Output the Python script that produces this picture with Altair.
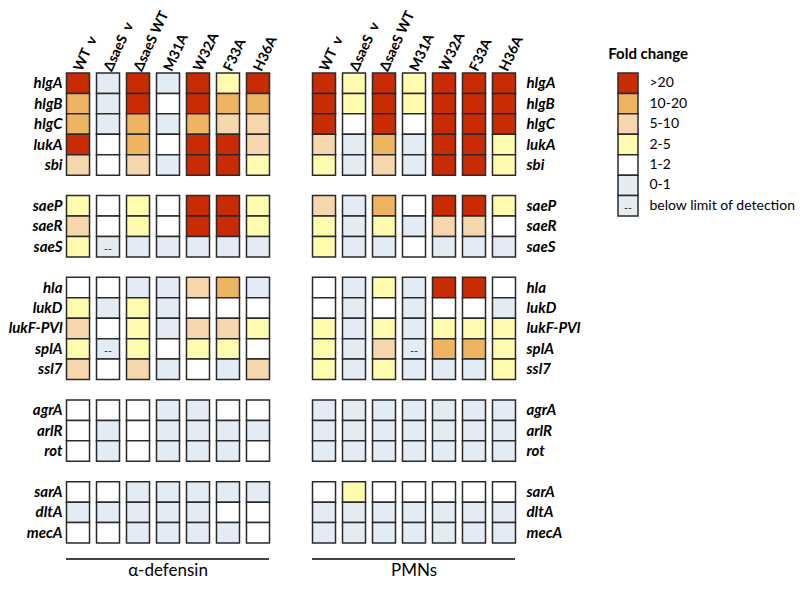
import altair as alt
import pandas as pd

FONT = "Lato"

conditions = ["WT\u00a0\u00a0v", "ΔsaeS\u00a0\u00a0v", "ΔsaeS WT", "M31A", "W32A", "F33A", "H36A"]

group1 = ["hlgA", "hlgB", "hlgC", "lukA", "sbi"]
group2 = ["saeP", "saeR", "saeS"]
group3 = ["hla", "lukD", "lukF-PVl", "splA", "ssl7"]
group4 = ["agrA", "arlR", "rot"]
group5 = ["sarA", "dltA", "mecA"]

# spacer rows between gene groups
row_order = (group1 + [" "] + group2 + ["  "] + group3 + ["   "] + group4 + ["    "] + group5)
genes = group1 + group2 + group3 + group4 + group5

# codes: R >20, O 10-20, P 5-10, Y 2-5, W 1-2, B 0-1, N below limit of detection
alpha_rows = [
    "RBRBRYR", "OBRWROO", "OBOBOPP", "RWOWRRP", "PWPBRRY",
    "YWYWRRY", "PWYWRRY", "YNBBBBB",
    "WWBBPOB", "YBYBWWW", "PWYBPPY", "YNYWYYW", "PWPBWBP",
    "WWWBBWW", "WBWBBBB", "WBWBBBW",
    "WWBBBBB", "BBBBBWW", "WWBBBBW",
]
pmn_rows = [
    "RYRYRRR", "RYRYRRR", "RWRWRRR", "PBOBRRY", "YBPBRRY",
    "PBOWRRY", "YBYBPPW", "YBBWBBB",
    "WBYBRRW", "WBWBWWB", "YBYBYYY", "YBPNOOY", "YBYBBBY",
    "BBBBBBB", "BBBBBBB", "BBBBBBB",
    "WYWWWWW", "BBBBBBB", "BBBBBBB",
]

legend_codes = ["R", "O", "P", "Y", "W", "B", "N"]
legend_labels = [">20", "10-20", "5-10", "2-5", "1-2", "0-1", "below limit of detection"]
legend_colors = ["#C92C05", "#EEB462", "#F6D6AC", "#FFFBAE", "#FFFFFF", "#E3EBF5", "#E3EBF5"]
code_to_label = dict(zip(legend_codes, legend_labels))

color_scale = alt.Scale(domain=legend_labels, range=legend_colors)
STROKE = "#2a2a2a"
H = 470


def make_df(rows):
    recs = []
    for g, r in zip(genes, rows):
        for c, code in zip(conditions, r):
            recs.append({"gene": g, "condition": c, "code": code, "category": code_to_label[code]})
    return pd.DataFrame(recs)


def panel(rows, title, orient, label_pad):
    df = make_df(rows)
    x = alt.X("condition:N", sort=conditions,
              scale=alt.Scale(domain=conditions, paddingInner=0.233, paddingOuter=0.117),
              axis=alt.Axis(orient="top", labelAngle=-65, title=None, domain=False, ticks=False,
                            labelFontWeight="bold", labelFontSize=14, labelPadding=3,
                            labelColor="#000"))
    y = alt.Y("gene:N", sort=row_order,
              scale=alt.Scale(domain=row_order, paddingInner=0, paddingOuter=0),
              axis=alt.Axis(orient=orient, title=None, domain=False, ticks=False,
                            labelFontStyle="italic", labelFontWeight="bold", labelFontSize=15,
                            labelPadding=label_pad, labelColor="#000"))
    base = alt.Chart(df)
    rect = base.mark_rect(stroke=STROKE, strokeWidth=1.5).encode(
        x=x, y=y,
        color=alt.Color("category:N", scale=color_scale, legend=None),
    )
    dash = base.transform_filter(alt.datum.code == "N").mark_text(
        text="--", fontSize=11, dy=3, color="#333").encode(x=x, y=y)
    rule = alt.Chart(pd.DataFrame({"a": [0]})).mark_rule(color="#000", strokeWidth=1.5).encode(
        x=alt.value(3), x2=alt.value(206), y=alt.value(H + 16))
    return alt.layer(rect, dash, rule).properties(
        width=210, height=H,
        title=alt.TitleParams(title, orient="bottom", fontSize=17, fontWeight="normal",
                              font=FONT, offset=3, color="#000"),
    )


alpha_panel = panel(alpha_rows, "α-defensin", "left", 1)
pmn_panel = panel(pmn_rows, "PMNs", "right", 7)

leg_df = pd.DataFrame({"label": legend_labels, "code": legend_codes})
ly = alt.Y("label:N", sort=legend_labels,
           scale=alt.Scale(domain=legend_labels, paddingInner=0, paddingOuter=0),
           axis=alt.Axis(orient="right", title=None, domain=False, ticks=False,
                         labelFontSize=14, labelPadding=11, labelColor="#000"))
leg_rect = alt.Chart(leg_df).mark_rect(stroke=STROKE, strokeWidth=1.5).encode(
    y=ly, x=alt.value(0), x2=alt.value(20),
    color=alt.Color("label:N", scale=color_scale, legend=None),
)
leg_dash = alt.Chart(leg_df).transform_filter(alt.datum.code == "N").mark_text(
    text="--", fontSize=11, dy=3, color="#333").encode(y=ly, x=alt.value(10))
legend = alt.layer(leg_rect, leg_dash).properties(
    width=20, height=143,
    title=alt.TitleParams("Fold change", anchor="start", fontSize=15, fontWeight="bold",
                          font=FONT, dx=-9, offset=10, color="#000"),
)

panels = alt.hconcat(alpha_panel, pmn_panel, spacing=36, bounds="flush")

chart = alt.hconcat(panels, legend, spacing=28).resolve_scale(
    color="shared"
).properties(
    padding={"left": 0, "top": 0, "right": 0, "bottom": 0}
).configure(font=FONT).configure_view(stroke=None)

chart.save("out.html", embed_options={"renderer": "svg", "actions": False})
